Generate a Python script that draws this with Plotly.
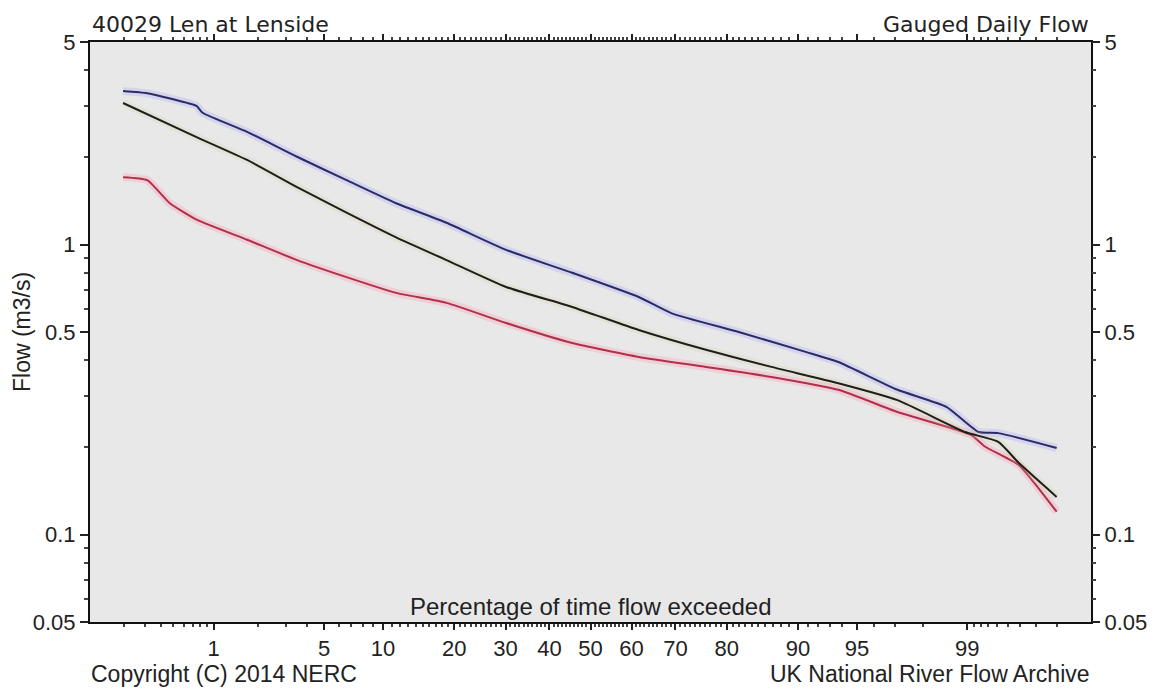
from statistics import NormalDist
import math
import plotly.graph_objects as go

# Flow duration curves, River Len at Lenside (station 40029)
# Exceedance percentages (%) and flows (m3/s)
pct_upper = [0.195, 0.31, 0.49, 0.75, 0.83, 1.7, 3.5, 6.6, 11.5, 18.7, 30.1, 45.5,
             61.7, 69.2, 82.0, 90.8, 93.7, 97.1, 98.6, 99.17, 99.41, 99.8]
flow_upper = [3.39, 3.33, 3.18, 3.01, 2.85, 2.45, 2.01, 1.67, 1.39, 1.19, 0.96, 0.80,
              0.66, 0.58, 0.50, 0.427, 0.394, 0.316, 0.276, 0.226, 0.224, 0.199]

pct_record = [0.195, 0.75, 1.7, 3.5, 6.6, 11.5, 18.7, 30.1, 45.5, 61.7, 76.2, 86.8,
              93.7, 97.1, 98.96, 99.41, 99.59, 99.8]
flow_record = [3.08, 2.35, 1.96, 1.58, 1.29, 1.06, 0.885, 0.715, 0.61, 0.508, 0.434, 0.379,
               0.333, 0.291, 0.226, 0.209, 0.177, 0.135]

pct_lower = [0.195, 0.31, 0.47, 0.75, 1.7, 3.5, 6.6, 11.5, 18.7, 30.1, 45.5, 61.7,
             76.2, 86.8, 93.7, 97.1, 99.06, 99.26, 99.59, 99.8]
flow_lower = [1.71, 1.67, 1.39, 1.22, 1.04, 0.885, 0.773, 0.682, 0.63, 0.537, 0.458, 0.41,
              0.379, 0.35, 0.316, 0.265, 0.221, 0.201, 0.174, 0.12]

x_tick_pct = [1, 5, 10, 20, 30, 40, 50, 60, 70, 80, 90, 95, 99]
x_tick_text = ["1", "5", "10", "20", "30", "40", "50", "60", "70", "80", "90", "95", "99"]
y_tick_vals = [0.05, 0.1, 0.5, 1, 5]
y_tick_text = ["0.05", "0.1", "0.5", "1", "5"]
y_minor_vals = [0.06, 0.07, 0.08, 0.09, 0.2, 0.3, 0.4, 0.6, 0.7, 0.8, 0.9, 2, 3, 4]

nd = NormalDist()


def probit(p):
    """Normal-probability position of an exceedance percentage."""
    return nd.inv_cdf(p / 100.0)


x_minor_pct = ([round(0.1 * i, 1) for i in range(2, 10)]
               + [i for i in range(2, 99) if i not in x_tick_pct]
               + [round(99 + 0.1 * i, 1) for i in range(1, 9)])

# (percentages, flows, line colour, halo colour, y axis)
series = [
    (pct_upper, flow_upper, "#2b2b66", "rgba(140,140,255,0.22)", "y"),
    (pct_record, flow_record, "#1e1e1e", "rgba(200,200,140,0.18)", "y2"),
    (pct_lower, flow_lower, "#b0304c", "rgba(255,130,160,0.25)", "y"),
]

fig = go.Figure()
for pct, flow, col, halo, yax in series:
    xs = [probit(p) for p in pct]
    fig.add_trace(go.Scatter(x=xs, y=flow, mode="lines", hoverinfo="skip", yaxis=yax,
                             line=dict(color=halo, width=8, shape="spline", smoothing=0.5)))
for pct, flow, col, halo, yax in series:
    xs = [probit(p) for p in pct]
    fig.add_trace(go.Scatter(x=xs, y=flow, mode="lines", yaxis=yax,
                             line=dict(color=col, width=2, shape="spline", smoothing=0.5)))

tick_font = dict(family="Liberation Sans, Arial, sans-serif", size=22, color="#222222")
ylog_range = [math.log10(0.05), math.log10(5)]

y_common = dict(
    type="log", range=ylog_range,
    tickmode="array", tickvals=y_tick_vals, ticktext=y_tick_text,
    ticks="outside", ticklen=8, tickwidth=1.5, tickcolor="#222",
    minor=dict(tickmode="array", tickvals=y_minor_vals,
               ticks="outside", ticklen=4, tickcolor="#444", showgrid=False),
    showgrid=False, zeroline=False,
    tickfont=tick_font, ticklabelstandoff=0,
)

fig.update_layout(
    width=1159, height=689,
    margin=dict(l=90, r=66, t=42, b=67),
    paper_bgcolor="#ffffff",
    plot_bgcolor="#e8e8e8",
    showlegend=False,
    xaxis=dict(
        range=[probit(0.1), probit(99.9)],
        tickmode="array",
        tickvals=[probit(p) for p in x_tick_pct],
        ticktext=x_tick_text,
        ticks="outside", ticklen=6, tickwidth=1.5, tickcolor="#222",
        minor=dict(tickmode="array", tickvals=[probit(p) for p in x_minor_pct],
                   ticks="outside", ticklen=3, tickcolor="#444", showgrid=False),
        showline=True, linecolor="#111", linewidth=2, mirror="ticks",
        showgrid=False, zeroline=False,
        tickfont=tick_font, ticklabelstandoff=0,
    ),
    yaxis=dict(showline=True, linecolor="#111", linewidth=2, mirror=True, **y_common),
    yaxis2=dict(overlaying="y", side="right", showline=False, **y_common),
)

head_font = dict(family="DejaVu Sans, sans-serif", size=22, color="#222222")
foot_font = dict(family="Liberation Sans, Arial, sans-serif", size=23, color="#222222")

fig.add_annotation(text="40029 Len at Lenside", xref="paper", yref="paper", x=0, y=1,
                   xanchor="left", yanchor="bottom", showarrow=False, font=head_font,
                   yshift=3)
fig.add_annotation(text="Gauged Daily Flow", xref="paper", yref="paper", x=1, y=1,
                   xanchor="right", yanchor="bottom", showarrow=False, font=head_font,
                   yshift=3)
fig.add_annotation(text="Percentage of time flow exceeded", xref="paper", yref="paper",
                   x=0.5, y=0, xanchor="center", yanchor="bottom", showarrow=False,
                   font=dict(foot_font, size=24), yshift=0)
fig.add_annotation(text="Flow (m3/s)", xref="paper", yref="paper", x=0, y=0.5,
                   xanchor="center", yanchor="middle", textangle=-90, showarrow=False,
                   font=foot_font, xshift=-68)
fig.add_annotation(text="Copyright (C) 2014 NERC", xref="paper", yref="paper", x=0, y=0,
                   xanchor="left", yanchor="bottom", showarrow=False, font=foot_font,
                   yshift=-66, borderpad=0)
fig.add_annotation(text="UK National River Flow Archive", xref="paper", yref="paper", x=1,
                   y=0, xanchor="right", yanchor="bottom", showarrow=False,
                   font=foot_font, yshift=-66, borderpad=0)

fig.write_html("out.html")
